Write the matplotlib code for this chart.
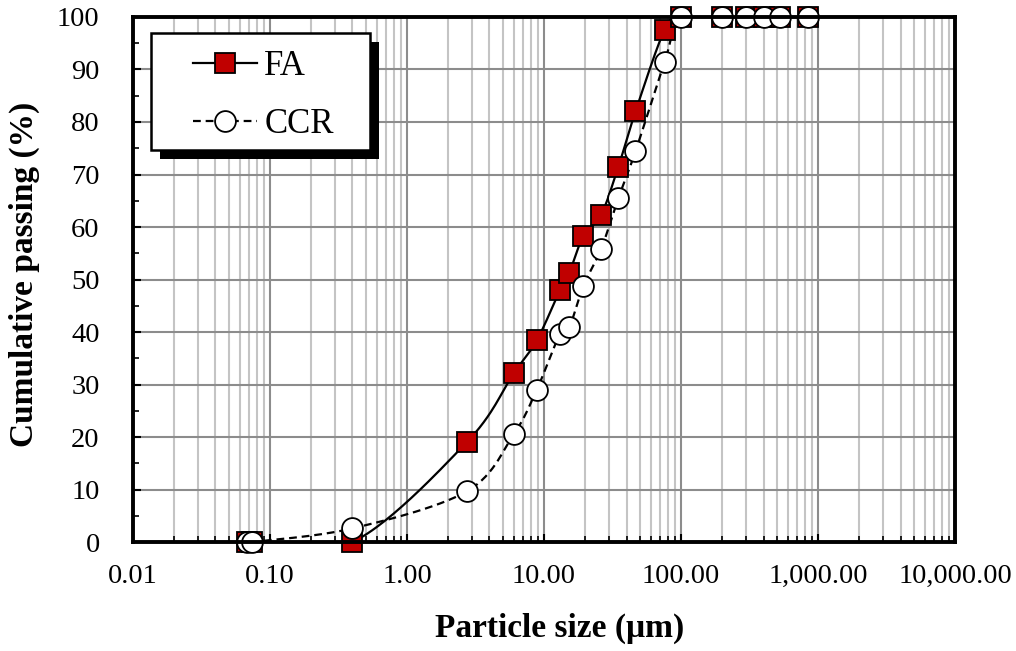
import matplotlib
matplotlib.use('Agg')
import matplotlib.pyplot as plt
import matplotlib.ticker as mticker
from matplotlib.patches import Rectangle
import numpy as np

plt.rcParams['font.family'] = ['Liberation Serif', 'DejaVu Serif']

# particle sizes (um) and cumulative passing (%)
size_um = [0.068, 0.074, 0.40, 2.75, 6.0, 8.85, 13.1, 15.3, 19.4, 26.1, 34.9,
           46.5, 76.0, 100, 200, 300, 400, 530, 850]
fa_pass = [0, 0, 0, 19.1, 32.1, 38.4, 48.0, 51.3, 58.3, 62.3, 71.5,
           82.0, 97.6, 100, 100, 100, 100, 100, 100]
ccr_pass = [0, 0, 2.6, 9.7, 20.5, 29.0, 39.7, 40.9, 48.8, 55.8, 65.5,
            74.4, 91.5, 100, 100, 100, 100, 100, 100]

x_ticks = [0.01, 0.1, 1, 10, 100, 1000, 10000]
y_ticks = list(range(0, 101, 10))


def smooth_curve(x, y, n=30):
    """Catmull-Rom smoothing in log-x space (like Excel smoothed lines)"""
    lx = np.log10(np.asarray(x, dtype=float))
    yy = np.asarray(y, dtype=float)
    px = np.concatenate([[lx[0]], lx, [lx[-1]]])
    py = np.concatenate([[yy[0]], yy, [yy[-1]]])
    out_x, out_y = [], []
    for i in range(1, len(px) - 2):
        t = np.linspace(0, 1, n)
        p0x, p1x, p2x, p3x = px[i - 1:i + 3]
        p0y, p1y, p2y, p3y = py[i - 1:i + 3]
        # bezier control points
        c1x, c1y = p1x + (p2x - p0x) / 6, p1y + (p2y - p0y) / 6
        c2x, c2y = p2x - (p3x - p1x) / 6, p2y - (p3y - p1y) / 6
        bx = (1 - t) ** 3 * p1x + 3 * (1 - t) ** 2 * t * c1x + 3 * (1 - t) * t ** 2 * c2x + t ** 3 * p2x
        by = (1 - t) ** 3 * p1y + 3 * (1 - t) ** 2 * t * c1y + 3 * (1 - t) * t ** 2 * c2y + t ** 3 * p2y
        out_x.extend(bx)
        out_y.extend(by)
    return 10 ** np.array(out_x), np.array(out_y)


fig = plt.figure(figsize=(10.16, 6.51), dpi=100)
ax = fig.add_axes([0.1309, 0.1674, 0.8091, 0.8065])

red = '#C00000'
msize = 15

# smoothed lines
sx, sy = smooth_curve(size_um, fa_pass)
ax.plot(sx, sy, color='black', linewidth=1.6, zorder=3)
sx, sy = smooth_curve(size_um, ccr_pass)
ax.plot(sx, sy, color='black', linewidth=1.6, linestyle=(0, (3.5, 2.2)), zorder=3)

# markers
ax.plot(size_um, fa_pass, linestyle='none', marker='s', markersize=msize,
        markerfacecolor=red, markeredgecolor='black', markeredgewidth=1.3, zorder=4, clip_on=False)
ax.plot(size_um, ccr_pass, linestyle='none', marker='o', markersize=msize,
        markerfacecolor='white', markeredgecolor='black', markeredgewidth=1.3, zorder=5, clip_on=False)

ax.set_xscale('log')
ax.set_xlim(0.01, 10000)
ax.set_ylim(0, 100)

ax.xaxis.set_major_locator(mticker.FixedLocator(x_ticks))
ax.xaxis.set_major_formatter(mticker.FuncFormatter(lambda v, p: '{:,.2f}'.format(v)))
ax.xaxis.set_minor_locator(mticker.LogLocator(base=10, subs=np.arange(2, 10)))
ax.xaxis.set_minor_formatter(mticker.NullFormatter())
ax.set_yticks(y_ticks)
ax.yaxis.set_minor_locator(mticker.MultipleLocator(5))

ax.grid(which='major', axis='x', color='#8c8c8c', linewidth=1.5, zorder=0)
ax.grid(which='minor', axis='x', color='#c4c4c4', linewidth=1.5, zorder=0)
ax.grid(which='major', axis='y', color='#8c8c8c', linewidth=1.5, zorder=0)
ax.set_axisbelow(True)

ax.tick_params(which='both', direction='in', labelsize=20.5, color='black')
ax.tick_params(which='major', length=6, width=1.5)
ax.tick_params(which='minor', length=4, width=1.2)
ax.tick_params(axis='y', which='both', left=True, right=False, pad=24)
ax.tick_params(axis='x', which='both', top=False, pad=16)

for sp in ax.spines.values():
    sp.set_linewidth(2.8)
    sp.set_zorder(6)

ax.set_xlabel('Particle size (\u03bcm)', fontsize=24, fontweight='bold', labelpad=17)
ax.set_ylabel('Cumulative passing (%)', fontsize=24, fontweight='bold', labelpad=12)
ax.xaxis.label.set_x(0.519)
ax.yaxis.label.set_y(0.51)

# legend box with hard shadow
bx0, by0, bw, bh = 0.022, 0.7467, 0.266, 0.2228
shadow = Rectangle((bx0 + 0.011, by0 - 0.017), bw, bh, transform=ax.transAxes,
                   facecolor='black', edgecolor='none', zorder=7)
box = Rectangle((bx0, by0), bw, bh, transform=ax.transAxes,
                facecolor='white', edgecolor='black', linewidth=1.8, zorder=8)
ax.add_patch(shadow)
ax.add_patch(box)

h_fa, = ax.plot([], [], color='black', linewidth=1.6, marker='s', markersize=msize,
                markerfacecolor=red, markeredgecolor='black', markeredgewidth=1.3)
h_ccr, = ax.plot([], [], color='black', linewidth=1.6, linestyle=(0, (3.5, 2.2)), marker='o',
                 markersize=msize, markerfacecolor='white', markeredgecolor='black', markeredgewidth=1.3)
leg = ax.legend([h_fa, h_ccr], ['FA', 'CCR'], loc='upper left', bbox_to_anchor=(0.073, 0.937),
                frameon=False, fontsize=25, handlelength=1.85, handletextpad=0.2,
                labelspacing=0.72, borderpad=0, borderaxespad=0)
leg.set_zorder(9)

fig.savefig('out.png', dpi=100)
